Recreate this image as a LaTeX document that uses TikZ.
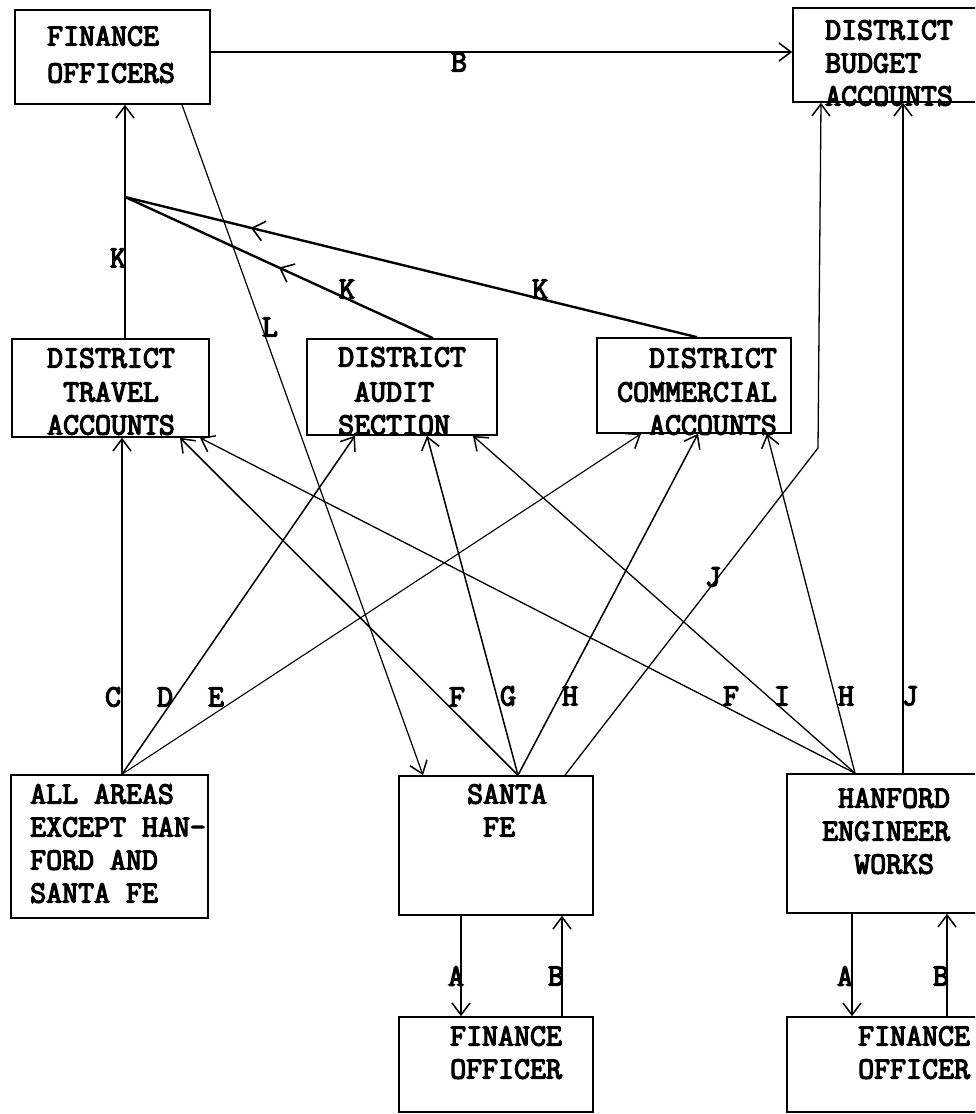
\documentclass[tikz,border=0pt]{standalone}
\usepackage{fontspec}
\newfontfamily\tw[FakeBold=4]{Latin Modern Mono}
\usetikzlibrary{arrows.meta,decorations.markings,calc}
\begin{document}
\begin{tikzpicture}[x=1pt,y=-1pt,
  box/.style={draw, line width=1.6pt, inner sep=0pt},
  txt/.style={font=\tw\fontsize{31}{33}\selectfont, inner sep=0pt},
  lbl/.style={font=\tw\fontsize{31}{33}\selectfont, inner sep=0pt},
  conn/.style={line width=1.5pt},
  arr/.style={conn, -{Straight Barb[length=12pt,width=18pt,line width=1.5pt]}},
  kline/.style={line width=2.4pt, postaction={decorate},
    decoration={markings, mark=at position #1 with {\arrow{Straight Barb[length=12pt,width=20pt,line width=1.6pt]}}}},
]
\useasboundingbox (0,0) rectangle (975,1114);
\clip (0,0) rectangle (975,1114);

% boxes
\node[box, minimum width=195pt, minimum height=94pt] (fos) at (112.5,57) {};
\node[box, minimum width=197pt, minimum height=94pt] (bud) at (891.5,55) {};
\node[box, minimum width=197pt, minimum height=98pt] (trv) at (110.5,388) {};
\node[box, minimum width=190pt, minimum height=96pt] (aud) at (402,387) {};
\node[box, minimum width=194pt, minimum height=95pt] (com) at (694,385.5) {};
\node[box, minimum width=197pt, minimum height=143pt] (all) at (109.5,846.5) {};
\node[box, minimum width=194pt, minimum height=139pt] (sf) at (496,845.5) {};
\node[box, minimum width=203pt, minimum height=139pt] (han) at (888.5,843.5) {};
\node[box, minimum width=194pt, minimum height=95pt] (sfo) at (496,1064.5) {};
\node[box, minimum width=203pt, minimum height=95pt] (hfo) at (888.5,1064.5) {};

% texts
\node[txt, align=left, anchor=north west] (fost) at (47,26) {FINANCE\\[4pt]OFFICERS};
\node[txt, align=left, anchor=north west] (budt) at (825,20) {DISTRICT\\BUDGET\\ACCOUNTS};
\node[txt, align=center, anchor=north] (trvt) at (111,348) {DISTRICT\\[1pt]TRAVEL\\ACCOUNTS};
\node[txt, align=left, anchor=north west] (audt) at (338,347) {DISTRICT\\[2pt]\hspace*{16pt}AUDIT\\SECTION};
\node[txt, align=right, anchor=north east] (comt) at (777,348) {DISTRICT\\[1pt]COMMERCIAL\\ACCOUNTS};
\node[txt, align=left, anchor=north west] (allt) at (30,784) {ALL AREAS\\EXCEPT HAN-\\FORD AND\\SANTA FE};
\node[txt, align=left, anchor=north west] (sft) at (467,784) {SANTA\\\hspace*{16pt}FE};
\node[txt, align=left, anchor=north west] (hant) at (822,788) {\hspace*{16pt}HANFORD\\ENGINEER\\\hspace*{32pt}WORKS};
\node[txt, align=left, anchor=north west] (sfot) at (450,1026) {FINANCE\\OFFICER};
\node[txt, align=left, anchor=north west] (hfot) at (858,1026) {FINANCE\\OFFICER};

% connectors
\draw[arr] (fos.east |- 0,52) -- (bud.west |- 0,52);
\draw[arr, line width=1.2pt] (125,0 |- trv.north) -- (125,0 |- fos.south);
\coordinate (kj) at (125,197);
\draw[kline=0.5] (433,0 |- aud.north) -- (kj);
\draw[kline=0.78] (697,0 |- com.north) -- (kj);
\draw[arr, line width=1.2pt] (182,0 |- fos.south) -- (423,0 |- sf.north);
\draw[arr, line width=1.3pt] (565,0 |- sf.north) -- (818,448) -- (821,0 |- bud.south);
\draw[arr, line width=1.2pt] (903,0 |- han.north) -- (903,0 |- bud.south);

\coordinate (ap) at (122,0 |- all.north);
\draw[arr, line width=1.2pt] (ap) -- (122,0 |- trv.south);
\draw[arr] (ap) -- (355,0 |- aud.south);
\draw[arr, line width=1.1pt] (ap) -- (641,0 |- com.south);

\coordinate (sp) at (518,0 |- sf.north);
\draw[arr] (sp) -- (180,0 |- trv.south);
\draw[arr] (sp) -- (427,0 |- aud.south);
\draw[arr] (sp) -- (698,0 |- com.south);

\coordinate (hp) at (855,0 |- han.north);
\draw[arr, line width=1.3pt] (hp) -- (200,0 |- trv.south);
\draw[arr, line width=1.3pt] (hp) -- (473,0 |- aud.south);
\draw[arr, line width=1.3pt] (hp) -- (767,0 |- com.south);

\draw[arr] (461,0 |- sf.south) -- (461,0 |- sfo.north);
\draw[arr] (562,0 |- sfo.north) -- (562,0 |- sf.south);
\draw[arr] (852,0 |- han.south) -- (852,0 |- hfo.north);
\draw[arr, line width=1.2pt] (947,0 |- hfo.north) -- (947,0 |- han.south);

% labels
\node[lbl] (lB) at (459,62) {B};
\node[lbl] (lK1) at (118,258) {K};
\node[lbl] (lK2) at (347,289) {K};
\node[lbl] (lK3) at (540,289) {K};
\node[lbl] (lL) at (270,327) {L};
\node[lbl] (lJ1) at (713,577) {J};
\node[lbl] (lC) at (113,697) {C};
\node[lbl] (lD) at (165,697) {D};
\node[lbl] (lE) at (216,697) {E};
\node[lbl] (lF1) at (457,697) {F};
\node[lbl] (lG) at (508,696) {G};
\node[lbl] (lH1) at (570,696) {H};
\node[lbl] (lF2) at (731,696) {F};
\node[lbl] (lI) at (782,696) {I};
\node[lbl] (lH2) at (846,696) {H};
\node[lbl] (lJ2) at (910,696) {J};
\node[lbl] (lA1) at (456,976) {A};
\node[lbl] (lB1) at (556,976) {B};
\node[lbl] (lA2) at (845,976) {A};
\node[lbl] (lB2) at (941,976) {B};
\end{tikzpicture}
\end{document}
